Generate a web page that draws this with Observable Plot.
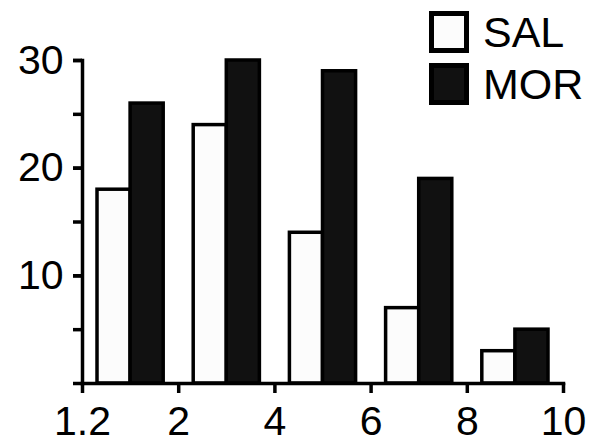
<!DOCTYPE html>
<html>
<head>
<meta charset="utf-8">
<script src="https://cdn.jsdelivr.net/npm/d3@7"></script>
<script src="https://cdn.jsdelivr.net/npm/@observablehq/plot@0.6"></script>
<style>
  body { margin: 0; background: #fff; }
  #wrap { position: relative; width: 607px; height: 445px; }
  #legend { position: absolute; left: 429px; top: 8px; font-family: "Liberation Sans", Arial, sans-serif; font-size: 43px; line-height: 1; }
  .item { display: flex; align-items: center; height: 48px; margin-bottom: 4px; }
  .sw { width: 30px; height: 32px; border: 5px solid #000; box-sizing: content-box; margin-right: 14px; }
</style>
</head>
<body>
<div id="wrap"><div id="legend"></div></div>
<script>
const tickLabels = ["1.2", "2", "4", "6", "8", "10"];
const groups = ["SAL", "MOR"];
const sal = [18, 24, 14, 7, 3];
const mor = [26, 30, 29, 19, 5];
const yLabeled = [10, 20, 30];
const yAll = [0, 5, 10, 15, 20, 25, 30];

const colors = {SAL: "#fcfcfc", MOR: "#111111"};
const rows = sal.flatMap((v, i) => [
  {bin: i, group: "SAL", value: v},
  {bin: i, group: "MOR", value: mor[i]}
]);
const half = 0.344;

const chart = Plot.plot({
  width: 607,
  height: 445,
  marginLeft: 82,
  marginRight: 44,
  marginTop: 60,
  marginBottom: 62,
  style: {fontFamily: "'Liberation Sans', Arial, sans-serif", color: "#000", background: "#fff"},
  x: {domain: [0, tickLabels.length - 1], label: null},
  y: {domain: [0, 30], label: null},
  marks: [
    Plot.rectY(rows, {
      x1: d => d.bin + 0.5 - (d.group === "SAL" ? half : 0),
      x2: d => d.bin + 0.5 + (d.group === "MOR" ? half : 0),
      y1: 0,
      y2: "value",
      fill: d => colors[d.group],
      stroke: "#000",
      strokeWidth: 3.5
    }),
    Plot.axisY({ticks: yAll, tickFormat: () => "", tickSize: 9, strokeWidth: 3.5, label: null}),
    Plot.axisY({ticks: yLabeled, tickSize: 9, tickPadding: 10, fontSize: 41, strokeWidth: 3.5, label: null}),
    Plot.axisX({ticks: d3.range(tickLabels.length), tickFormat: i => tickLabels[i], tickSize: 10, tickPadding: 12, fontSize: 41, strokeWidth: 3.5, label: null}),
    Plot.frame({anchor: "left", strokeWidth: 3.5}),
    Plot.frame({anchor: "bottom", strokeWidth: 3.5})
  ]
});
document.getElementById("wrap").prepend(chart);

const legend = document.getElementById("legend");
for (const g of groups) {
  const item = document.createElement("div");
  item.className = "item";
  const sw = document.createElement("div");
  sw.className = "sw";
  sw.style.background = colors[g];
  const t = document.createElement("span");
  t.textContent = g;
  item.append(sw, t);
  legend.append(item);
}
</script>
</body>
</html>
